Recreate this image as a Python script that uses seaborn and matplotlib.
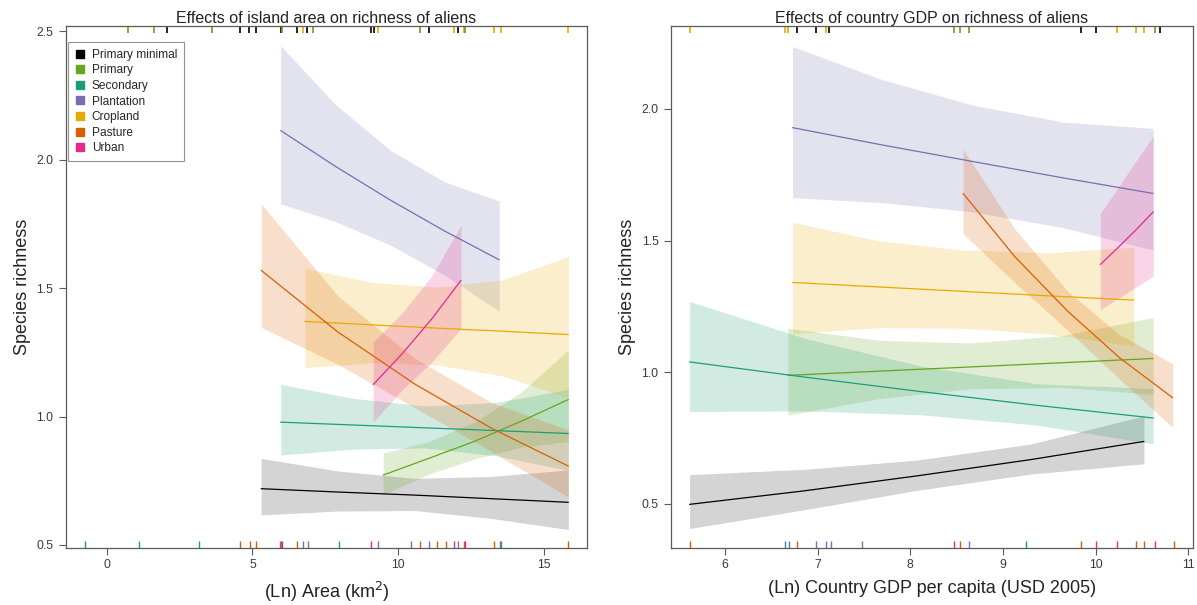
import numpy as np
import pandas as pd
import matplotlib
matplotlib.use("Agg")
import matplotlib.pyplot as plt
from matplotlib.lines import Line2D
import seaborn as sns

# ---------------------------------------------------------------- data
land_uses = ["Primary minimal", "Primary", "Secondary", "Plantation",
             "Cropland", "Pasture", "Urban"]
colors = ["#000000", "#66A61E", "#1B9E77", "#7570B3",
          "#E6AB02", "#D95F02", "#E7298A"]

# Island area panel: predicted richness with lower / upper confidence limits
area_x = [
    [5.30, 7.93, 10.57, 13.20, 15.83],
    [9.48, 11.07, 12.65, 14.24, 15.83],
    [5.97, 8.44, 10.90, 13.37, 15.83],
    [5.97, 7.84, 9.72, 11.59, 13.46],
    [6.80, 9.06, 11.32, 13.57, 15.83],
    [5.30, 7.93, 10.57, 13.20, 15.83],
    [9.14, 10.14, 11.15, 12.15],
]
area_fit = [
    [0.719, 0.706, 0.694, 0.680, 0.666],
    [0.772, 0.838, 0.905, 0.983, 1.066],
    [0.978, 0.967, 0.956, 0.945, 0.934],
    [2.113, 1.974, 1.843, 1.722, 1.610],
    [1.370, 1.357, 1.344, 1.332, 1.319],
    [1.569, 1.329, 1.126, 0.954, 0.807],
    [1.124, 1.245, 1.380, 1.530],
]
area_lo = [
    [0.617, 0.632, 0.634, 0.603, 0.560],
    [0.695, 0.777, 0.836, 0.881, 0.903],
    [0.850, 0.873, 0.878, 0.847, 0.790],
    [1.828, 1.759, 1.668, 1.550, 1.410],
    [1.190, 1.209, 1.201, 1.158, 1.072],
    [1.347, 1.203, 1.034, 0.863, 0.687],
    [0.979, 1.104, 1.212, 1.342],
]
area_hi = [
    [0.837, 0.788, 0.759, 0.767, 0.792],
    [0.858, 0.903, 0.980, 1.097, 1.259],
    [1.125, 1.071, 1.041, 1.055, 1.105],
    [2.443, 2.215, 2.037, 1.913, 1.839],
    [1.577, 1.523, 1.504, 1.532, 1.622],
    [1.828, 1.469, 1.226, 1.054, 0.948],
    [1.290, 1.404, 1.548, 1.744],
]

# Country GDP panel
gdp_x = [
    [5.62, 6.85, 8.07, 9.30, 10.52],
    [6.68, 7.67, 8.65, 9.64, 10.62],
    [5.62, 6.87, 8.12, 9.37, 10.62],
    [6.73, 7.70, 8.68, 9.65, 10.62],
    [6.73, 7.65, 8.57, 9.49, 10.41],
    [8.57, 9.13, 9.70, 10.26, 10.83],
    [10.05, 10.24, 10.43, 10.62],
]
gdp_fit = [
    [0.498, 0.549, 0.606, 0.668, 0.737],
    [0.988, 1.004, 1.020, 1.036, 1.052],
    [1.039, 0.981, 0.926, 0.874, 0.826],
    [1.929, 1.863, 1.800, 1.738, 1.679],
    [1.341, 1.324, 1.307, 1.290, 1.274],
    [1.679, 1.438, 1.231, 1.054, 0.903],
    [1.409, 1.473, 1.539, 1.609],
]
gdp_lo = [
    [0.406, 0.477, 0.551, 0.613, 0.652],
    [0.837, 0.900, 0.937, 0.942, 0.916],
    [0.851, 0.853, 0.838, 0.799, 0.728],
    [1.663, 1.644, 1.609, 1.549, 1.464],
    [1.146, 1.169, 1.167, 1.145, 1.100],
    [1.526, 1.340, 1.159, 0.973, 0.790],
    [1.238, 1.280, 1.322, 1.365],
]
gdp_hi = [
    [0.611, 0.631, 0.666, 0.727, 0.834],
    [1.167, 1.121, 1.111, 1.139, 1.208],
    [1.269, 1.128, 1.023, 0.956, 0.938],
    [2.237, 2.111, 2.014, 1.950, 1.926],
    [1.569, 1.500, 1.464, 1.454, 1.475],
    [1.847, 1.543, 1.307, 1.142, 1.032],
    [1.603, 1.701, 1.799, 1.897],
]

# Rug positions (observed site values) and their land use
area_rug_top_x = [0.73, 1.62, 2.06, 3.63, 4.57, 4.87, 5.11, 5.99, 6.03, 6.53,
                  6.74, 6.88, 7.06, 9.06, 9.18, 9.32, 10.75, 11.06, 11.90,
                  12.04, 12.25, 12.30, 13.28, 13.51, 15.82]
area_rug_top_use = ["Primary", "Primary", "Primary minimal", "Primary",
                    "Primary minimal", "Primary minimal", "Primary minimal",
                    "Primary minimal", "Primary", "Primary minimal", "Cropland",
                    "Primary minimal", "Primary", "Primary minimal",
                    "Primary minimal", "Cropland", "Primary", "Primary minimal",
                    "Cropland", "Primary minimal", "Cropland", "Primary",
                    "Cropland", "Cropland", "Cropland"]
area_rug_bot_x = [-0.73, 1.12, 3.16, 4.57, 4.93, 5.14, 5.94, 5.97, 6.00, 6.53,
                  6.74, 6.90, 7.96, 9.06, 9.32, 10.42, 10.75, 11.07, 11.33,
                  11.62, 11.90, 12.04, 12.27, 12.30, 13.28, 13.48, 13.52, 15.82]
area_rug_bot_use = ["Secondary", "Secondary", "Secondary", "Pasture", "Pasture",
                    "Pasture", "Plantation", "Pasture", "Urban", "Pasture",
                    "Plantation", "Plantation", "Secondary", "Urban",
                    "Plantation", "Plantation", "Pasture", "Plantation",
                    "Pasture", "Pasture", "Urban", "Plantation", "Pasture",
                    "Urban", "Pasture", "Secondary", "Plantation", "Pasture"]
gdp_rug_top_x = [5.62, 6.65, 6.68, 6.78, 6.98, 7.09, 7.12, 8.47, 8.54, 8.63,
                 9.84, 10.00, 10.23, 10.43, 10.52, 10.64, 10.69]
gdp_rug_top_use = ["Cropland", "Cropland", "Cropland", "Primary minimal",
                   "Primary minimal", "Cropland", "Primary minimal", "Primary",
                   "Primary", "Primary", "Primary minimal", "Primary minimal",
                   "Cropland", "Cropland", "Cropland", "Primary",
                   "Primary minimal"]
gdp_rug_bot_x = [5.62, 6.65, 6.69, 6.78, 6.98, 7.09, 7.14, 7.48, 8.47, 8.54,
                 8.63, 9.25, 9.84, 10.00, 10.23, 10.43, 10.52, 10.64, 10.84]
gdp_rug_bot_use = ["Pasture", "Secondary", "Plantation", "Pasture",
                   "Plantation", "Plantation", "Plantation", "Plantation",
                   "Urban", "Pasture", "Plantation", "Secondary", "Pasture",
                   "Urban", "Urban", "Pasture", "Pasture", "Urban", "Pasture"]

# ---------------------------------------------------------------- style
sns.set_theme(style="white")
plt.rcParams["font.family"] = ["Liberation Sans", "DejaVu Sans"]
palette = dict(zip(land_uses, colors))
spine_col = "#5a5a5a"
tick_col = "#3a3a3a"

fig = plt.figure(figsize=(11.97, 6.05), dpi=100)
ax_area = fig.add_axes([0.0549, 0.095, 0.4355, 0.862])
ax_gdp = fig.add_axes([0.5606, 0.095, 0.4361, 0.862])


def long_frame(xs, fits):
    rows = []
    for use, xv, fv in zip(land_uses, xs, fits):
        for a, b in zip(xv, fv):
            rows.append((use, a, b))
    return pd.DataFrame(rows, columns=["land_use", "x", "richness"])


def draw_panel(ax, xs, fits, los, his, top_x, top_use, bot_x, bot_use,
               xlim, ylim, xticks, yticks, xlabel, title):
    for use, xv, lo, hi in zip(land_uses, xs, los, his):
        alpha = 0.17 if use == "Primary minimal" else 0.2
        ax.fill_between(xv, lo, hi, color=palette[use], alpha=alpha, lw=0)
    df = long_frame(xs, fits)
    sns.lineplot(data=df, x="x", y="richness", hue="land_use",
                 hue_order=land_uses, palette=palette, estimator=None,
                 sort=False, legend=False, lw=0.9, ax=ax)
    rug = pd.DataFrame({"x": bot_x, "land_use": bot_use})
    sns.rugplot(data=rug, x="x", hue="land_use", palette=palette,
                height=0.013, lw=1.2, legend=False, expand_margins=False, ax=ax)
    ax.vlines(top_x, 0.987, 1.0, transform=ax.get_xaxis_transform(),
              colors=[palette[u] for u in top_use], lw=1.2)

    ax.set_xlim(*xlim)
    ax.set_ylim(*ylim)
    ax.set_xticks(xticks)
    ax.set_yticks(yticks)
    ax.set_xticklabels([f"{t:g}" for t in xticks])
    ax.set_yticklabels([f"{t:.1f}" for t in yticks])
    ax.tick_params(axis="both", which="both", direction="out", length=5,
                   width=0.8, color=spine_col, labelsize=8.8,
                   labelcolor=tick_col, left=True, bottom=True, pad=4)
    ax.tick_params(axis="x", pad=3.5)
    for s in ax.spines.values():
        s.set_visible(True)
        s.set_color(spine_col)
        s.set_linewidth(0.9)
    ax.set_xlabel(xlabel, fontsize=13, color="#222222", labelpad=6)
    ax.set_ylabel("Species richness", fontsize=13, color="#222222", labelpad=4)
    ax.set_title(title, fontsize=11.5, color="#222222", pad=2)


draw_panel(ax_area, area_x, area_fit, area_lo, area_hi,
           area_rug_top_x, area_rug_top_use, area_rug_bot_x, area_rug_bot_use,
           (-1.40, 16.47), (0.49, 2.52), [0, 5, 10, 15],
           [0.5, 1.0, 1.5, 2.0, 2.5], "(Ln) Area (km$^2$)",
           "Effects of island area on richness of aliens")
draw_panel(ax_gdp, gdp_x, gdp_fit, gdp_lo, gdp_hi,
           gdp_rug_top_x, gdp_rug_top_use, gdp_rug_bot_x, gdp_rug_bot_use,
           (5.42, 11.05), (0.334, 2.315), [6, 7, 8, 9, 10, 11],
           [0.5, 1.0, 1.5, 2.0], "(Ln) Country GDP per capita (USD 2005)",
           "Effects of country GDP on richness of aliens")

handles = [Line2D([0], [0], marker="s", ls="none", markersize=6,
                  markerfacecolor=c, markeredgecolor=c) for c in colors]
leg = ax_area.legend(handles, land_uses, loc="upper left",
                     bbox_to_anchor=(0.004, 0.970), borderaxespad=0,
                     fontsize=8.6, frameon=True, fancybox=False,
                     handlelength=0.8, handletextpad=0.6, labelspacing=0.3,
                     borderpad=0.6)
leg.get_frame().set_edgecolor("#777777")
leg.get_frame().set_linewidth(0.8)

fig.savefig("out.png", dpi=100)
